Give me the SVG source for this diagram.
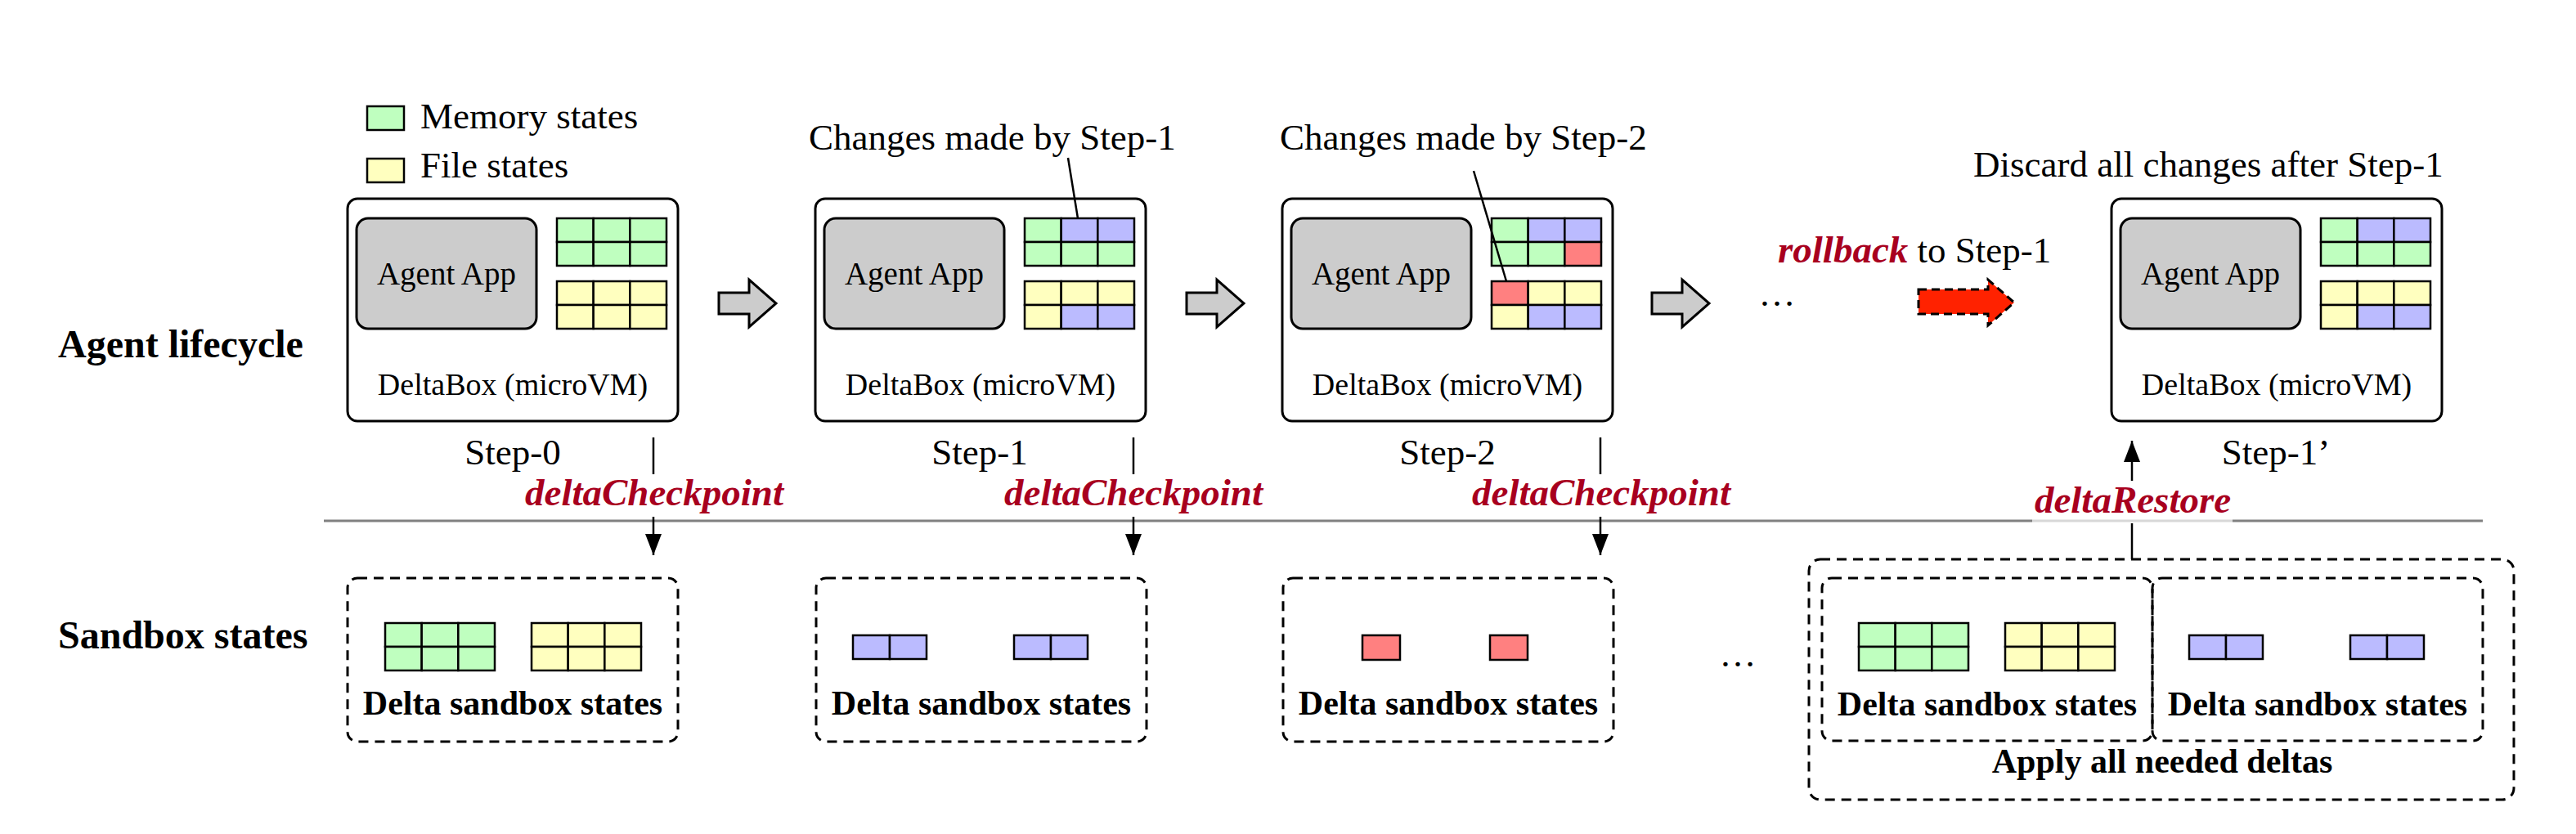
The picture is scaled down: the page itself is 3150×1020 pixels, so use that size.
<svg xmlns="http://www.w3.org/2000/svg" xmlns:xlink="http://www.w3.org/1999/xlink" width="3150" height="1020" viewBox="0 0 3150 1020">
<style>
  text { font-family: "Liberation Serif", "Times New Roman", serif; fill: #000; }
  .sec { font-size: 48px; font-weight: bold; }
  .ann { font-size: 45px; }
  .box { fill: #fff; stroke: #000; stroke-width: 3; }
  .app { fill: #cccccc; stroke: #000; stroke-width: 3; }
  .appt { font-size: 39px; text-anchor: middle; }
  .dbt { font-size: 38px; text-anchor: middle; }
  .step { font-size: 45px; text-anchor: middle; }
  .op { font-size: 47px; font-weight: bold; font-style: italic; fill: #A8001E; text-anchor: middle; }
  .dsb { font-size: 42px; font-weight: bold; text-anchor: middle; }
  .dash { fill: none; stroke: #000; stroke-width: 3; stroke-dasharray: 12 8; }
  .c { stroke: #000; stroke-width: 2.5; }
  .g { fill: #BFFFBF; }
  .y { fill: #FFFFBF; }
  .b { fill: #BBBBFF; }
  .r { fill: #FF8080; }
  .ln { stroke: #000; stroke-width: 2.5; fill: none; }
  .garrow { fill: #cccccc; stroke: #000; stroke-width: 3; stroke-linejoin: miter; }
</style>
<defs>
  <marker id="ah" markerUnits="userSpaceOnUse" markerWidth="26" markerHeight="20" refX="26" refY="10" orient="auto">
    <path d="M0,0 L26,10 L0,20 Z" fill="#000"/>
  </marker>
  <g id="gridG">
    <rect class="c g" x="0" y="0" width="44.67" height="29"/>
    <rect class="c g" x="44.67" y="0" width="44.67" height="29"/>
    <rect class="c g" x="89.33" y="0" width="44.67" height="29"/>
    <rect class="c g" x="0" y="29" width="44.67" height="29"/>
    <rect class="c g" x="44.67" y="29" width="44.67" height="29"/>
    <rect class="c g" x="89.33" y="29" width="44.67" height="29"/>
  </g>
  <g id="gridY">
    <rect class="c y" x="0" y="0" width="44.67" height="29"/>
    <rect class="c y" x="44.67" y="0" width="44.67" height="29"/>
    <rect class="c y" x="89.33" y="0" width="44.67" height="29"/>
    <rect class="c y" x="0" y="29" width="44.67" height="29"/>
    <rect class="c y" x="44.67" y="29" width="44.67" height="29"/>
    <rect class="c y" x="89.33" y="29" width="44.67" height="29"/>
  </g>
  <g id="gridG1">
    <rect class="c g" x="0" y="0" width="44.67" height="29"/>
    <rect class="c b" x="44.67" y="0" width="44.67" height="29"/>
    <rect class="c b" x="89.33" y="0" width="44.67" height="29"/>
    <rect class="c g" x="0" y="29" width="44.67" height="29"/>
    <rect class="c g" x="44.67" y="29" width="44.67" height="29"/>
    <rect class="c g" x="89.33" y="29" width="44.67" height="29"/>
  </g>
  <g id="gridY1">
    <rect class="c y" x="0" y="0" width="44.67" height="29"/>
    <rect class="c y" x="44.67" y="0" width="44.67" height="29"/>
    <rect class="c y" x="89.33" y="0" width="44.67" height="29"/>
    <rect class="c y" x="0" y="29" width="44.67" height="29"/>
    <rect class="c b" x="44.67" y="29" width="44.67" height="29"/>
    <rect class="c b" x="89.33" y="29" width="44.67" height="29"/>
  </g>
  <g id="bluePair">
    <rect class="c b" x="0" y="0" width="45" height="29"/>
    <rect class="c b" x="45" y="0" width="45" height="29"/>
  </g>
</defs>

<rect x="0" y="0" width="3150" height="1020" fill="#fff"/>

<!-- Section labels -->
<g id="labels">
  <text class="sec" x="71" y="437">Agent lifecycle</text>
  <text class="sec" x="71" y="793">Sandbox states</text>
</g>

<!-- Legend -->
<g id="legend">
  <rect class="c g" x="449" y="130" width="45" height="29"/>
  <text class="ann" x="514" y="157">Memory states</text>
  <rect class="c y" x="449" y="194" width="45" height="29"/>
  <text class="ann" x="514" y="217">File states</text>
</g>

<!-- Step-0 -->
<g id="step0">
  <rect class="box" x="425" y="243" width="404" height="272" rx="12"/>
  <rect class="app" x="436" y="267" width="220" height="135" rx="14"/>
  <text class="appt" x="546" y="348">Agent App</text>
  <use xlink:href="#gridG" x="681" y="267"/>
  <use xlink:href="#gridY" x="681" y="344"/>
  <text class="dbt" x="627" y="483">DeltaBox (microVM)</text>
  <text class="step" x="627" y="568">Step-0</text>
</g>

<!-- Step-1 -->
<g id="step1">
  <text class="ann" x="989" y="183">Changes made by Step-1</text>
  <rect class="box" x="997" y="243" width="404" height="272" rx="12"/>
  <rect class="app" x="1008" y="267" width="220" height="135" rx="14"/>
  <text class="appt" x="1118" y="348">Agent App</text>
  <use xlink:href="#gridG1" x="1253" y="267"/>
  <use xlink:href="#gridY1" x="1253" y="344"/>
  <text class="dbt" x="1199" y="483">DeltaBox (microVM)</text>
  <text class="step" x="1198" y="568">Step-1</text>
</g>

<!-- Step-2 -->
<g id="step2">
  <text class="ann" x="1565" y="183">Changes made by Step-2</text>
  <rect class="box" x="1568" y="243" width="404" height="272" rx="12"/>
  <rect class="app" x="1579" y="267" width="220" height="135" rx="14"/>
  <text class="appt" x="1689" y="348">Agent App</text>
  <g transform="translate(1824,267)">
    <rect class="c g" x="0" y="0" width="44.67" height="29"/>
    <rect class="c b" x="44.67" y="0" width="44.67" height="29"/>
    <rect class="c b" x="89.33" y="0" width="44.67" height="29"/>
    <rect class="c g" x="0" y="29" width="44.67" height="29"/>
    <rect class="c g" x="44.67" y="29" width="44.67" height="29"/>
    <rect class="c r" x="89.33" y="29" width="44.67" height="29"/>
  </g>
  <g transform="translate(1824,344)">
    <rect class="c r" x="0" y="0" width="44.67" height="29"/>
    <rect class="c y" x="44.67" y="0" width="44.67" height="29"/>
    <rect class="c y" x="89.33" y="0" width="44.67" height="29"/>
    <rect class="c y" x="0" y="29" width="44.67" height="29"/>
    <rect class="c b" x="44.67" y="29" width="44.67" height="29"/>
    <rect class="c b" x="89.33" y="29" width="44.67" height="29"/>
  </g>
  <text class="dbt" x="1770" y="483">DeltaBox (microVM)</text>
  <text class="step" x="1770" y="568">Step-2</text>
</g>

<!-- Rollback -->
<g id="rollback">
  <text class="ann" x="2174" y="321"><tspan font-weight="bold" font-style="italic" fill="#A8001E" font-size="47">rollback</tspan> to Step-1</text>
  <path d="M2346,354 H2431 V342 L2463,370 L2431,398 V384 H2346 Z" fill="#FF2200" stroke="#000" stroke-width="3" stroke-dasharray="10 6"/>
  <text class="ann" x="2173" y="374" text-anchor="middle" font-size="42">…</text>
</g>

<!-- Step-1' -->
<g id="step1p">
  <text class="ann" x="2413" y="216">Discard all changes after Step-1</text>
  <rect class="box" x="2582" y="243" width="404" height="272" rx="12"/>
  <rect class="app" x="2593" y="267" width="220" height="135" rx="14"/>
  <text class="appt" x="2703" y="348">Agent App</text>
  <use xlink:href="#gridG1" x="2838" y="267"/>
  <use xlink:href="#gridY1" x="2838" y="344"/>
  <text class="dbt" x="2784" y="483">DeltaBox (microVM)</text>
  <text class="step" x="2783" y="568">Step-1’</text>
</g>

<!-- Sandbox states -->
<g id="delta0">
  <rect class="dash" x="425" y="707" width="404" height="200" rx="12"/>
  <use xlink:href="#gridG" x="471" y="762"/>
  <use xlink:href="#gridY" x="650" y="762"/>
  <text class="dsb" x="627" y="874">Delta sandbox states</text>
</g>
<g id="delta1">
  <rect class="dash" x="998" y="707" width="404" height="200" rx="12"/>
  <use xlink:href="#bluePair" x="1043" y="777"/>
  <use xlink:href="#bluePair" x="1240" y="777"/>
  <text class="dsb" x="1200" y="874">Delta sandbox states</text>
</g>
<g id="delta2">
  <rect class="dash" x="1569" y="707" width="404" height="200" rx="12"/>
  <rect class="c r" x="1666" y="777" width="46" height="30"/>
  <rect class="c r" x="1822" y="777" width="46" height="30"/>
  <text class="dsb" x="1771" y="874">Delta sandbox states</text>
  <text class="ann" x="2125" y="815" text-anchor="middle" font-size="42">…</text>
</g>
<g id="applyDeltas">
  <rect class="dash" x="2212" y="684" width="862" height="294" rx="14"/>
  <rect class="dash" x="2228" y="707" width="404" height="199" rx="12"/>
  <use xlink:href="#gridG" x="2273" y="762"/>
  <use xlink:href="#gridY" x="2452" y="762"/>
  <text class="dsb" x="2430" y="875">Delta sandbox states</text>
  <rect class="dash" x="2632" y="707" width="404" height="199" rx="12"/>
  <use xlink:href="#bluePair" x="2677" y="777"/>
  <use xlink:href="#bluePair" x="2874" y="777"/>
  <text class="dsb" x="2834" y="875">Delta sandbox states</text>
  <text class="dsb" x="2644" y="945">Apply all needed deltas</text>
</g>

<!-- Connectors -->
<g id="connectors">
  <!-- divider -->
  <line x1="396" y1="637" x2="2485" y2="637" stroke="#808080" stroke-width="3"/>
  <line x1="2485" y1="637" x2="2730" y2="637" stroke="#d8d8d8" stroke-width="3"/>
  <line x1="2730" y1="637" x2="3036" y2="637" stroke="#808080" stroke-width="3"/>
  <!-- lifecycle arrows -->
  <path class="garrow" d="M879,358 H916 V342 L949,371 L916,400 V384 H879 Z"/>
  <path class="garrow" d="M1451,358 H1488 V342 L1521,371 L1488,400 V384 H1451 Z"/>
  <path class="garrow" d="M2020,358 H2057 V342 L2090,371 L2057,400 V384 H2020 Z"/>
  <!-- leader lines -->
  <line class="ln" x1="1306" y1="193" x2="1318" y2="267"/>
  <line class="ln" x1="1802" y1="209" x2="1842" y2="344"/>
  <!-- checkpoints -->
  <line class="ln" x1="799" y1="535" x2="799" y2="580"/>
  <text class="op" x="800" y="618">deltaCheckpoint</text>
  <line class="ln" x1="799" y1="632" x2="799" y2="679" marker-end="url(#ah)"/>
  <line class="ln" x1="1386" y1="535" x2="1386" y2="580"/>
  <text class="op" x="1386" y="618">deltaCheckpoint</text>
  <line class="ln" x1="1386" y1="632" x2="1386" y2="679" marker-end="url(#ah)"/>
  <line class="ln" x1="1957" y1="535" x2="1957" y2="580"/>
  <text class="op" x="1958" y="618">deltaCheckpoint</text>
  <line class="ln" x1="1957" y1="632" x2="1957" y2="679" marker-end="url(#ah)"/>
  <!-- restore -->
  <line class="ln" x1="2607" y1="684" x2="2607" y2="640"/>
  <text class="op" x="2608" y="627">deltaRestore</text>
  <line class="ln" x1="2607" y1="588" x2="2607" y2="539" marker-end="url(#ah)"/>
</g>
</svg>
